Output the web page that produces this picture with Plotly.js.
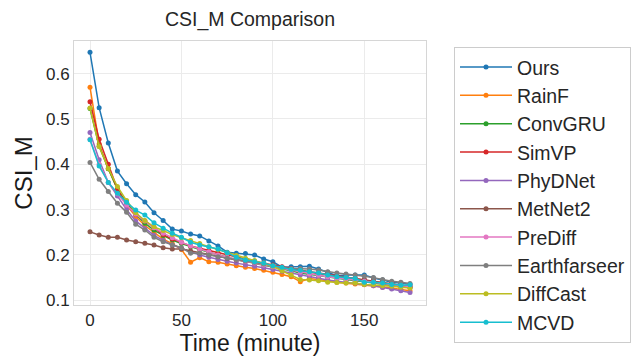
<!DOCTYPE html>
<html>
<head>
<meta charset="utf-8">
<script src="https://cdn.plot.ly/plotly-3.0.1.min.js"></script>
<style>html,body{margin:0;padding:0;background:#fff;}#chart{width:642px;height:356px;}</style>
</head>
<body>
<div id="chart"></div>
<script>
const timeMinutes = [0,5,10,15,20,25,30,35,40,45,50,55,60,65,70,75,80,85,90,95,100,105,110,115,120,125,130,135,140,145,150,155,160,165,170,175];

const seriesNames = ["Ours","RainF","ConvGRU","SimVP","PhyDNet","MetNet2","PreDiff","Earthfarseer","DiffCast","MCVD"];

const ours = [0.647,0.525,0.447,0.385,0.357,0.333,0.317,0.293,0.276,0.257,0.253,0.246,0.242,0.231,0.220,0.206,0.204,0.203,0.200,0.191,0.185,0.173,0.174,0.174,0.175,0.169,0.162,0.154,0.156,0.156,0.156,0.149,0.145,0.139,0.138,0.135];
const rainF = [0.570,0.445,0.390,0.345,0.310,0.285,0.265,0.250,0.235,0.225,0.212,0.184,0.194,0.185,0.184,0.180,0.176,0.173,0.170,0.166,0.162,0.157,0.152,0.141,0.148,0.146,0.143,0.140,0.138,0.136,0.134,0.132,0.129,0.127,0.124,0.121];
const convGRU = [0.523,0.440,0.390,0.345,0.315,0.290,0.270,0.255,0.243,0.233,0.225,0.218,0.212,0.206,0.200,0.195,0.190,0.186,0.182,0.178,0.174,0.170,0.165,0.160,0.157,0.154,0.151,0.148,0.145,0.143,0.141,0.138,0.135,0.133,0.130,0.128];
const simVP = [0.538,0.455,0.400,0.345,0.310,0.290,0.275,0.260,0.245,0.235,0.228,0.220,0.215,0.210,0.205,0.200,0.195,0.190,0.186,0.182,0.178,0.174,0.170,0.166,0.163,0.160,0.157,0.154,0.151,0.148,0.146,0.143,0.140,0.137,0.133,0.130];
const phyDNet = [0.470,0.410,0.360,0.330,0.300,0.275,0.258,0.243,0.232,0.222,0.215,0.207,0.200,0.195,0.190,0.186,0.182,0.178,0.175,0.172,0.168,0.164,0.160,0.156,0.152,0.148,0.145,0.142,0.140,0.138,0.135,0.132,0.128,0.125,0.121,0.117];
const metNet2 = [0.251,0.244,0.239,0.239,0.233,0.229,0.226,0.222,0.216,0.213,0.213,0.209,0.204,0.200,0.196,0.192,0.189,0.186,0.183,0.180,0.176,0.172,0.168,0.165,0.162,0.159,0.156,0.153,0.150,0.148,0.145,0.142,0.139,0.136,0.133,0.130];
const preDiff = [0.455,0.400,0.360,0.335,0.310,0.290,0.275,0.260,0.248,0.238,0.228,0.220,0.213,0.207,0.200,0.195,0.190,0.186,0.182,0.178,0.174,0.170,0.166,0.162,0.158,0.155,0.152,0.149,0.147,0.145,0.142,0.140,0.137,0.135,0.132,0.130];
const earthfarseer = [0.404,0.367,0.340,0.314,0.294,0.268,0.255,0.239,0.229,0.222,0.216,0.204,0.204,0.200,0.196,0.193,0.190,0.187,0.184,0.180,0.176,0.172,0.170,0.170,0.169,0.167,0.163,0.160,0.158,0.156,0.153,0.150,0.146,0.142,0.140,0.137];
const diffCast = [0.524,0.439,0.391,0.351,0.320,0.293,0.276,0.262,0.254,0.245,0.238,0.232,0.225,0.218,0.212,0.205,0.199,0.193,0.188,0.182,0.175,0.165,0.156,0.146,0.145,0.143,0.140,0.139,0.138,0.138,0.135,0.134,0.132,0.131,0.129,0.127];
const mcvd = [0.454,0.396,0.360,0.336,0.316,0.299,0.288,0.271,0.259,0.248,0.239,0.228,0.222,0.218,0.213,0.205,0.195,0.189,0.185,0.182,0.176,0.173,0.168,0.166,0.163,0.160,0.156,0.152,0.150,0.148,0.140,0.140,0.138,0.135,0.133,0.134];

const seriesValues = [ours, rainF, convGRU, simVP, phyDNet, metNet2, preDiff, earthfarseer, diffCast, mcvd];
const colors = ["#1f77b4","#ff7f0e","#2ca02c","#d62728","#9467bd","#8c564b","#e377c2","#7f7f7f","#bcbd22","#17becf"];

const FONT = "'Liberation Sans', Arial, sans-serif";

const traces = seriesNames.map((name, i) => ({
  type: "scatter",
  mode: "lines+markers",
  name: name,
  x: timeMinutes,
  y: seriesValues[i],
  line: {color: colors[i], width: 1.5},
  marker: {color: colors[i], size: 5}
}));

const layout = {
  width: 642,
  height: 356,
  margin: {l: 74, r: 215, t: 41, b: 51},
  paper_bgcolor: "#ffffff",
  plot_bgcolor: "#ffffff",
  font: {family: FONT, color: "#262626"},
  title: {
    text: "CSI_M Comparison",
    font: {family: FONT, size: 19.5, color: "#262626"},
    x: 0.5, xref: "paper", xanchor: "center",
    y: 1 - 19/356, yref: "container", yanchor: "middle"
  },
  xaxis: {
    range: [-8.75, 183.75],
    tickvals: [0, 50, 100, 150],
    ticktext: ["0", "50", "100", "150"],
    showgrid: true, gridcolor: "#ebebeb", gridwidth: 1,
    zeroline: false,
    showline: true, linecolor: "#d6d6d6", linewidth: 1, mirror: true,
    ticks: "", tickfont: {family: FONT, size: 17, color: "#262626"},
    title: {text: "Time (minute)", font: {family: FONT, size: 23, color: "#1a1a1a"}, standoff: 4}
  },
  yaxis: {
    range: [0.0896, 0.672],
    tickvals: [0.1, 0.2, 0.3, 0.4, 0.5, 0.6],
    ticktext: ["0.1", "0.2", "0.3", "0.4", "0.5", "0.6"],
    showgrid: true, gridcolor: "#ebebeb", gridwidth: 1,
    zeroline: false,
    showline: true, linecolor: "#d6d6d6", linewidth: 1, mirror: true,
    ticks: "", tickfont: {family: FONT, size: 17, color: "#262626"},
    title: {text: "CSI_M", font: {family: FONT, size: 24, color: "#1a1a1a"}, standoff: 6}
  },
  showlegend: true,
  legend: {
    x: 1.0765, xanchor: "left",
    y: 0.978, yanchor: "top",
    bgcolor: "#ffffff",
    bordercolor: "#cccccc",
    borderwidth: 1,
    font: {family: FONT, size: 19.5, color: "#262626"},
    itemwidth: 52,
    maxheight: 340
  },
  hovermode: false
};

Plotly.newPlot("chart", traces, layout, {displayModeBar: false, staticPlot: true});
</script>
</body>
</html>
